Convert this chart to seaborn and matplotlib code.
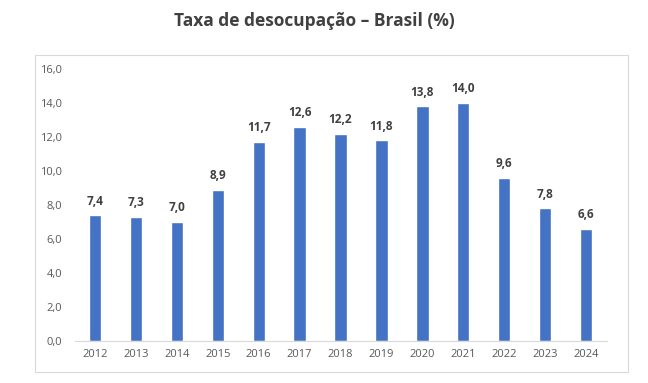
import pandas as pd
import matplotlib.pyplot as plt
import seaborn as sns
from matplotlib.patches import Rectangle


# ==========================================
# DATA
# ==========================================

anos = ["2012", "2013", "2014", "2015", "2016", "2017", "2018",
        "2019", "2020", "2021", "2022", "2023", "2024"]

taxa = [7.4, 7.3, 7.0, 8.9, 11.7, 12.6, 12.2,
        11.8, 13.8, 14.0, 9.6, 7.8, 6.6]

df = pd.DataFrame({"ano": anos, "taxa": taxa})


# ==========================================
# PLOT
# ==========================================

sns.set_style("white")
plt.rcParams["font.family"] = ["Open Sans", "DejaVu Sans"]

fig = plt.figure(figsize=(6.48, 3.83), dpi=100)
ax = fig.add_axes([0.115, 0.1097, 0.821, 0.7101])

sns.barplot(
    data=df,
    x="ano",
    y="taxa",
    color="#4472C4",
    width=0.3,
    saturation=1,
    ax=ax
)

ax.set_ylim(0, 16)
ax.set_yticks(range(0, 17, 2))
ax.set_yticklabels([f"{v:.1f}".replace(".", ",") for v in range(0, 17, 2)])

ax.set_xlabel("")
ax.set_ylabel("")

for s in ["top", "left", "right"]:
    ax.spines[s].set_visible(False)
ax.spines["bottom"].set_color("#D9D9D9")

ax.tick_params(axis="both", length=0, labelsize=8, colors="#595959")
ax.tick_params(axis="y", pad=9)
ax.tick_params(axis="x", pad=6)

for i, v in enumerate(taxa):
    ax.text(i, v + 0.45, f"{v:.1f}".replace(".", ","),
            ha="center", va="bottom", fontsize=8.5,
            fontweight="bold", color="#404040")

# chart border
fig.add_artist(Rectangle((0.054, 0.0287), 0.915, 0.828,
                         transform=fig.transFigure, fill=False,
                         edgecolor="#D9D9D9", linewidth=0.8))

fig.text(0.485, 0.945, "Taxa de desocupação – Brasil (%)",
         ha="center", va="center", fontsize=12.5,
         fontweight="bold", color="#404040")

fig.savefig("out.png", dpi=100)
plt.close()
